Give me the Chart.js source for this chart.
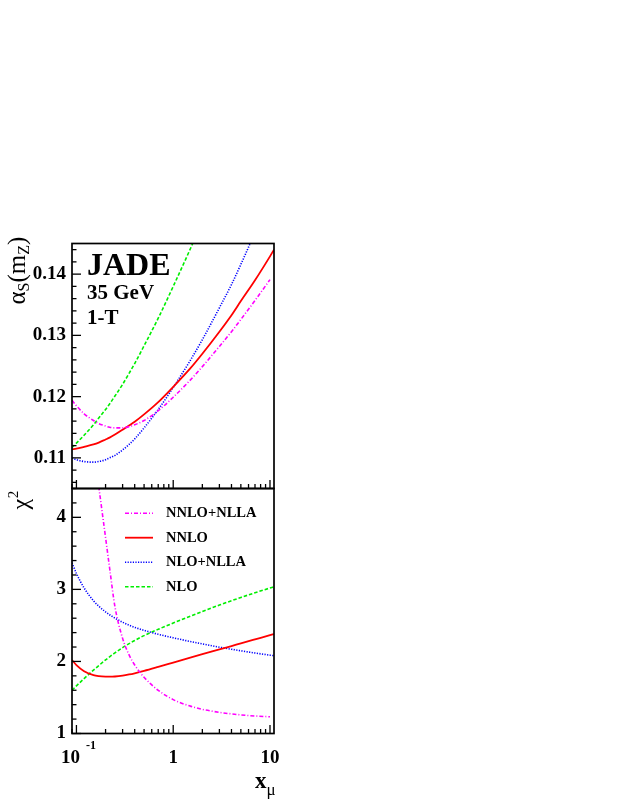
<!DOCTYPE html>
<html>
<head>
<meta charset="utf-8">
<script src="https://cdn.jsdelivr.net/npm/chart.js@4.4.1/dist/chart.umd.min.js"></script>
<style>
html,body{margin:0;padding:0;background:#fff;}
#wrap{position:relative;width:623px;height:806px;}
canvas{display:block;}
</style>
</head>
<body>
<div id="wrap"><canvas id="c" width="623" height="806"></canvas></div>
<script>
// ---- data ----
const xValues = [0.09,0.1,0.12,0.15,0.17,0.2,0.22,0.25,0.3,0.35,0.4,0.5,0.7,1,1.5,2,3,4,5,7,10,11];
const seriesLabels = ['NNLO+NLLA','NNLO','NLO+NLLA','NLO'];
// alpha_s(mZ) panel
const alphaNNLONLLA = [0.1194,0.1185,0.1172,0.1161,0.1156,0.1152,0.1150,0.1149,0.1149,0.1151,0.1154,0.1161,0.1177,0.1199,0.1227,0.1249,0.1282,0.1306,0.1326,0.1357,0.1391,null];
const alphaNNLO     = [0.1114,0.1115,0.1118,0.1122,0.1125,0.1130,0.1133,0.1138,0.1146,0.1153,0.1159,0.1171,0.1191,0.1216,0.1246,0.1270,0.1306,0.1333,0.1356,0.1390,0.1429,0.1440];
const alphaNLONLLA  = [0.1100,0.1097,0.1094,0.1093,0.1094,0.1097,0.1100,0.1104,0.1113,0.1122,0.1131,0.1149,0.1179,0.1215,0.1259,0.1293,0.1345,0.1383,0.1416,0.1468,null,null];
const alphaNLO      = [0.1117,0.1124,0.1137,0.1154,0.1165,0.1179,0.1188,0.1201,0.1220,0.1238,0.1254,0.1283,0.1328,0.1380,0.1441,0.1487,null,null,null,null,null,null];
// chi^2 panel
const chi2NNLONLLA  = [null,null,null,null,4.43,3.72,3.30,2.76,2.32,2.09,1.95,1.78,1.60,1.47,1.38,1.335,1.293,1.272,1.258,1.243,1.232,null];
const chi2NNLO      = [2.02,1.95,1.865,1.811,1.797,1.789,1.788,1.791,1.803,1.819,1.836,1.869,1.924,1.984,2.052,2.100,2.167,2.214,2.251,2.306,2.364,2.380];
const chi2NLONLLA   = [3.37,3.22,3.02,2.843,2.768,2.687,2.648,2.601,2.544,2.503,2.473,2.431,2.377,2.328,2.277,2.243,2.198,2.169,2.148,2.117,2.087,2.080];
const chi2NLO       = [1.60,1.661,1.762,1.880,1.942,2.021,2.064,2.119,2.191,2.247,2.291,2.358,2.446,2.533,2.628,2.693,2.782,2.843,2.888,2.953,3.019,3.036];
// tick labels
const xTickValues = [0.1, 1, 10];
const xTickBases = ['10', '1', '10'];
const xTickExponents = ['-1', '', ''];
const alphaTickValues = [0.11, 0.12, 0.13, 0.14];
const chi2TickValues = [1, 2, 3, 4];

// ---- styles ----
const styles = [
  {color:'#ff00ff', dash:[4,2,1,2], width:1.6},
  {color:'#ff0000', dash:[], width:1.8},
  {color:'#0000ff', dash:[1.2,1.4], width:1.6},
  {color:'#00ee00', dash:[3.5,2], width:1.6}
];
const alphaSeries = [alphaNNLONLLA, alphaNNLO, alphaNLONLLA, alphaNLO];
const chi2Series = [chi2NNLONLLA, chi2NNLO, chi2NLONLLA, chi2NLO];

function toPoints(arr){
  const pts = [];
  xValues.forEach((x,i)=>{ if(arr[i]!==null) pts.push({x:x, y:arr[i]}); });
  return pts;
}
const datasets = [];
seriesLabels.forEach((lab,i)=>{
  datasets.push({label:lab, yAxisID:'yTop', data:toPoints(alphaSeries[i]),
    borderColor:styles[i].color, borderDash:styles[i].dash, borderWidth:styles[i].width,
    pointRadius:0, fill:false, cubicInterpolationMode:'monotone'});
});
seriesLabels.forEach((lab,i)=>{
  datasets.push({label:lab, yAxisID:'yBot', data:toPoints(chi2Series[i]),
    borderColor:styles[i].color, borderDash:styles[i].dash, borderWidth:styles[i].width,
    pointRadius:0, fill:false, cubicInterpolationMode:'monotone'});
});

const SERIF = '"Liberation Serif", "Times New Roman", serif';

const panelClip = {
  id:'panelClip',
  beforeDatasetDraw(chart, args){
    const ys = args.meta.yScale, ca = chart.chartArea, ctx = chart.ctx;
    ctx.save();
    ctx.beginPath();
    ctx.rect(ca.left, ys.top, ca.right-ca.left, ys.bottom-ys.top);
    ctx.clip();
  },
  afterDatasetDraw(chart){ chart.ctx.restore(); }
};

const decor = {
  id:'decor',
  afterDraw(chart){
    const ctx = chart.ctx, xs = chart.scales.x, yT = chart.scales.yTop, yB = chart.scales.yBot;
    const L = xs.left, R = xs.right;
    ctx.save();
    ctx.strokeStyle = '#000';
    // ticks
    ctx.lineWidth = 1.3;
    function yTicks(s, minor, per){
      const k0 = Math.ceil(s.min/minor - 1e-6), k1 = Math.floor(s.max/minor + 1e-6);
      for(let k=k0;k<=k1;k++){
        const p = s.getPixelForValue(k*minor);
        const len = (k%per===0) ? 9 : 4.5;
        ctx.beginPath(); ctx.moveTo(L,p); ctx.lineTo(L+len,p); ctx.stroke();
      }
    }
    yTicks(yT, 0.002, 5);
    yTicks(yB, 0.2, 5);
    for(let d=-2; d<=1; d++){
      for(let m=1; m<=9; m++){
        const v = m*Math.pow(10,d);
        if(v < xs.min*0.999 || v > xs.max*1.001) continue;
        const p = xs.getPixelForValue(v);
        const len = (m===1) ? 8.5 : 4.5;
        [yT.bottom, yB.bottom].forEach(b=>{ ctx.beginPath(); ctx.moveTo(p,b); ctx.lineTo(p,b-len); ctx.stroke(); });
      }
    }
    // frames
    ctx.lineWidth = 1.7;
    [yT, yB].forEach(s=>{ ctx.strokeRect(L, s.top, R-L, s.bottom-s.top); });

    // x tick labels
    ctx.fillStyle = '#000';
    ctx.textBaseline = 'alphabetic';
    xTickValues.forEach((v,i)=>{
      const p = xs.getPixelForValue(v);
      const base = yB.bottom + 29.5;
      ctx.font = 'bold 19px ' + SERIF;
      if(xTickExponents[i]){
        ctx.textAlign = 'right';
        ctx.fillText(xTickBases[i], p+3.6, base);
        ctx.font = 'bold 12px ' + SERIF;
        ctx.textAlign = 'left';
        ctx.fillText(xTickExponents[i], p+9.6, base-14.5);
      } else {
        ctx.textAlign = 'center';
        ctx.fillText(xTickBases[i], p, base);
      }
    });

    // legend inside lower panel
    const legendSets = chart.data.datasets.filter(d=>d.yAxisID==='yBot');
    legendSets.forEach((d,i)=>{
      const y = yB.top + 24.7 + i*24.5;
      ctx.save();
      ctx.strokeStyle = d.borderColor; ctx.lineWidth = d.borderWidth; ctx.setLineDash(d.borderDash||[]);
      ctx.beginPath(); ctx.moveTo(L+53, y); ctx.lineTo(L+81, y); ctx.stroke();
      ctx.restore();
      ctx.font = 'bold 14.5px ' + SERIF;
      ctx.textAlign = 'left'; ctx.textBaseline = 'middle'; ctx.fillStyle = '#000';
      ctx.fillText(d.label, L+94, y+0.5);
    });

    // annotations in upper panel
    ctx.textBaseline = 'alphabetic'; ctx.textAlign = 'left'; ctx.fillStyle = '#000';
    ctx.font = 'bold 32px ' + SERIF;
    ctx.fillText('JADE', L+15, yT.top + 31.5);
    ctx.font = 'bold 21px ' + SERIF;
    ctx.fillText('35 GeV', L+15, yT.top + 55);
    ctx.fillText('1-T', L+15, yT.top + 80.5);

    // y axis title (upper): alpha_S(m_Z)
    ctx.save();
    ctx.translate(25, yT.top + 61);
    ctx.rotate(-Math.PI/2);
    ctx.textAlign = 'left'; ctx.textBaseline = 'alphabetic';
    const big = '25px ' + SERIF, small = '16px ' + SERIF;
    const parts = [['\u03B1', big, 0], ['S', small, 4], ['(m', big, 0], ['Z', small, 4], [')', big, 0]];
    let tx = 0;
    parts.forEach(pt=>{ ctx.font = pt[1]; ctx.fillText(pt[0], tx, pt[2]); tx += ctx.measureText(pt[0]).width; });
    ctx.restore();

    // y axis title (lower): chi^2
    ctx.save();
    ctx.translate(28, yB.top + 21);
    ctx.rotate(-Math.PI/2);
    ctx.textAlign = 'left'; ctx.textBaseline = 'alphabetic';
    ctx.font = '24px ' + SERIF;
    ctx.fillText('\u03C7', 0, 0);
    const cw = ctx.measureText('\u03C7').width;
    ctx.font = '15px ' + SERIF;
    ctx.fillText('2', cw + 0.5, -10);
    ctx.restore();

    // x axis title: x_mu
    ctx.textAlign = 'left'; ctx.textBaseline = 'alphabetic';
    ctx.font = 'bold 23px ' + SERIF;
    const xw = ctx.measureText('x').width;
    const xStart = R - 19;
    ctx.fillText('x', xStart, yB.bottom + 54.5);
    ctx.font = '17px ' + SERIF;
    ctx.fillText('\u03BC', xStart + xw, yB.bottom + 61.5);
    ctx.restore();
  }
};

const tickFont = {family: SERIF, size: 19, weight: 'bold'};

new Chart(document.getElementById('c'), {
  type: 'line',
  data: { datasets: datasets },
  options: {
    responsive: false,
    animation: false,
    layout: { padding: { top: 243.5, left: 0, right: 349, bottom: 0 } },
    plugins: { legend: {display:false}, tooltip: {enabled:false} },
    scales: {
      x: {
        type: 'logarithmic', position: 'bottom', min: 0.09, max: 11,
        grid: {display:false, drawTicks:false}, border: {display:false},
        ticks: {display:false},
        afterFit(s){ s.height = 72.5; }
      },
      yBot: {
        type: 'linear', position: 'left', stack: 'panels', stackWeight: 1,
        min: 1, max: 4.4,
        grid: {display:false, drawTicks:false}, border: {display:false},
        afterBuildTicks(s){ s.ticks = chi2TickValues.map(v=>({value:v})); },
        ticks: {padding: 6, color:'#000', font: tickFont, callback: v => String(v)},
        afterFit(s){ s.width = 72; }
      },
      yTop: {
        type: 'linear', position: 'left', stack: 'panels', stackWeight: 1,
        min: 0.105, max: 0.145,
        grid: {display:false, drawTicks:false}, border: {display:false},
        afterBuildTicks(s){ s.ticks = alphaTickValues.map(v=>({value:v})); },
        ticks: {padding: 6, color:'#000', font: tickFont, callback: v => Number(v).toFixed(2)},
        afterFit(s){ s.width = 72; }
      }
    }
  },
  plugins: [panelClip, decor]
});
</script>
</body>
</html>
